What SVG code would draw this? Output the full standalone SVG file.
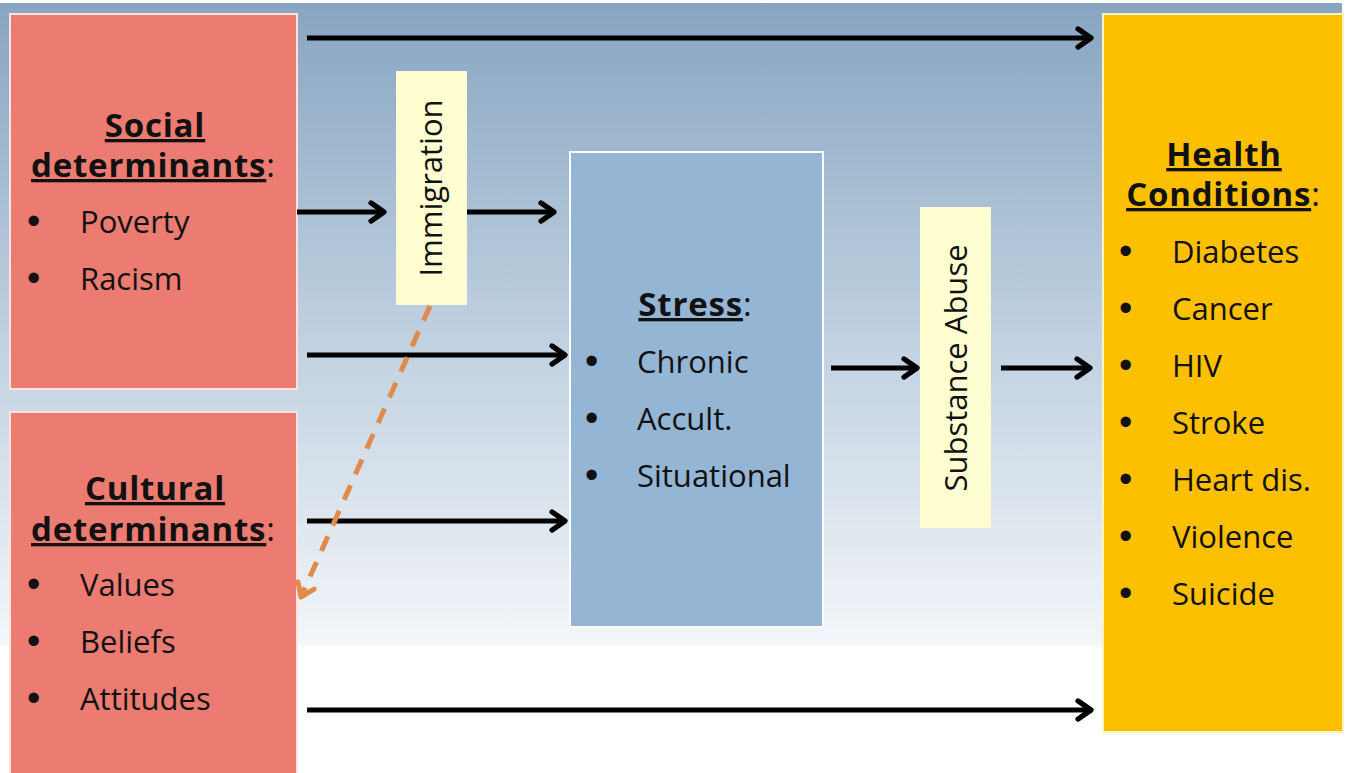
<svg xmlns="http://www.w3.org/2000/svg" width="1349" height="773" viewBox="0 0 1349 773">
<style>
.t{font-family:"Open Sans",Lato,"Liberation Sans",sans-serif;fill:#111}
.h{font-weight:bold;font-size:33px;letter-spacing:0.8px;text-decoration:underline}
.i{font-size:31px}
.b{font-family:"Liberation Sans",Arial,sans-serif;font-size:38px;fill:#111}
.v{font-size:31px}
.conn{stroke:#000;stroke-width:5;fill:none;marker-end:url(#ah)}
</style>
<defs>
<linearGradient id="bg" x1="0" y1="0" x2="0" y2="1">
<stop offset="0" stop-color="#88a5c2"/>
<stop offset="0.45" stop-color="#b8cbdc"/>
<stop offset="1" stop-color="#f3f6f9"/>
</linearGradient>
<marker id="ah" viewBox="0 0 20 20" refX="16" refY="10" markerWidth="5.2" markerHeight="5.2" markerUnits="strokeWidth" orient="auto">
<path d="M6,3 L16,10 L6,17" fill="none" stroke="#000" stroke-width="4" stroke-linecap="round" stroke-linejoin="round"/>
</marker>
<marker id="ao" viewBox="0 0 20 20" refX="16" refY="10" markerWidth="5" markerHeight="5" markerUnits="strokeWidth" orient="auto">
<path d="M6,3 L16,10 L6,17" fill="none" stroke="#e08a4c" stroke-width="4" stroke-linecap="round" stroke-linejoin="round"/>
</marker>
</defs>
<rect x="0" y="0" width="1349" height="773" fill="#ffffff"/>
<rect x="0" y="3" width="1342" height="642" fill="url(#bg)"/>

<g id="social">
<rect x="10" y="14" width="287" height="375" fill="#ec7b72" stroke="#fbe3df" stroke-width="2"/>
<text class="t" text-anchor="middle" font-size="33"><tspan class="h" x="155" y="137">Social</tspan><tspan x="153" y="177"><tspan class="h">determinants</tspan>:</tspan></text>
<text class="b" x="27" y="234">•</text><text class="t i" x="80" y="233">Poverty</text>
<text class="b" x="27" y="291">•</text><text class="t i" x="80" y="290">Racism</text>
</g>

<g id="cultural">
<rect x="10" y="412" width="287" height="363" fill="#ec7b72" stroke="#fbe3df" stroke-width="2"/>
<text class="t" text-anchor="middle" font-size="33"><tspan class="h" x="155" y="500">Cultural</tspan><tspan x="153" y="541"><tspan class="h">determinants</tspan>:</tspan></text>
<text class="b" x="27" y="597">•</text><text class="t i" x="80" y="596">Values</text>
<text class="b" x="27" y="654">•</text><text class="t i" x="80" y="653">Beliefs</text>
<text class="b" x="27" y="711">•</text><text class="t i" x="80" y="710">Attitudes</text>
</g>

<g id="immigration">
<rect x="396" y="71" width="71" height="234" fill="#ffffd2"/>
<text class="t v" transform="translate(442,188) rotate(-90)" text-anchor="middle">Immigration</text>
</g>

<g id="stress">
<rect x="570" y="152" width="253" height="475" fill="#94b6d4" stroke="#ffffff" stroke-width="2"/>
<text class="t" x="695" y="316" text-anchor="middle" font-size="33"><tspan class="h">Stress</tspan>:</text>
<text class="b" x="585" y="374">•</text><text class="t i" x="637" y="373">Chronic</text>
<text class="b" x="585" y="431">•</text><text class="t i" x="637" y="430">Accult.</text>
<text class="b" x="585" y="488">•</text><text class="t i" x="637" y="487">Situational</text>
</g>

<g id="substance">
<rect x="920" y="207" width="71" height="321" fill="#ffffd2"/>
<text class="t v" transform="translate(967,368) rotate(-90)" text-anchor="middle">Substance Abuse</text>
</g>

<g id="health">
<rect x="1103" y="14" width="240" height="718" fill="#fdc000" stroke="#fff3c0" stroke-width="2"/>
<text class="t" text-anchor="middle" font-size="33"><tspan class="h" x="1224" y="166">Health</tspan><tspan x="1223" y="206"><tspan class="h">Conditions</tspan>:</tspan></text>
<text class="b" x="1119" y="264">•</text><text class="t i" x="1172" y="263">Diabetes</text>
<text class="b" x="1119" y="321">•</text><text class="t i" x="1172" y="320">Cancer</text>
<text class="b" x="1119" y="378">•</text><text class="t i" x="1172" y="377">HIV</text>
<text class="b" x="1119" y="435">•</text><text class="t i" x="1172" y="434">Stroke</text>
<text class="b" x="1119" y="492">•</text><text class="t i" x="1172" y="491">Heart dis.</text>
<text class="b" x="1119" y="549">•</text><text class="t i" x="1172" y="548">Violence</text>
<text class="b" x="1119" y="606">•</text><text class="t i" x="1172" y="605">Suicide</text>
</g>

<g id="connectors">
<line class="conn" x1="307" y1="38" x2="1091" y2="38"/>
<line class="conn" x1="297" y1="212" x2="384" y2="212"/>
<line class="conn" x1="467" y1="212" x2="554" y2="212"/>
<line class="conn" x1="307" y1="355" x2="565" y2="355"/>
<line class="conn" x1="307" y1="521" x2="565" y2="521"/>
<line class="conn" x1="831" y1="368" x2="917" y2="368"/>
<line class="conn" x1="1001" y1="368" x2="1090" y2="368"/>
<line class="conn" x1="307" y1="710" x2="1091" y2="710"/>
<line x1="430" y1="306" x2="301" y2="597" stroke="#e08a4c" stroke-width="5" stroke-dasharray="16,12" fill="none" marker-end="url(#ao)"/>
</g>
</svg>
